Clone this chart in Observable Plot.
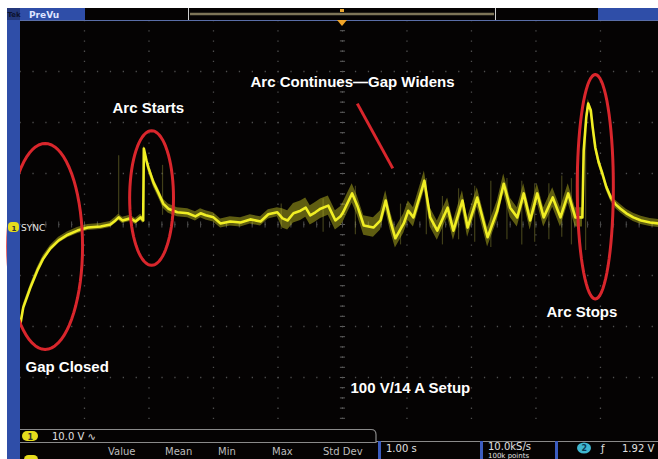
<!DOCTYPE html>
<html>
<head>
<meta charset="utf-8">
<script src="https://cdn.jsdelivr.net/npm/d3@7"></script>
<script src="https://cdn.jsdelivr.net/npm/@observablehq/plot@0.6"></script>
<style>
  html, body { margin: 0; padding: 0; background: #fff; }
  #chart svg { display: block; }
</style>
</head>
<body>
<div id="chart"></div>
<script>
// Channel 1 arc-voltage capture, 1.00 s/div, 10.0 V/div (ground at screen centre)
const timeS = [0.01, 0.05, 0.16, 0.27, 0.36, 0.47, 0.60, 0.74, 0.89, 1.05,
  1.25, 1.40, 1.48, 1.53, 1.59, 1.71, 1.79, 1.87, 1.91, 1.92,
  1.96, 1.99, 2.07, 2.15, 2.22, 2.30, 2.44, 2.60, 2.72, 2.80,
  2.88, 3.00, 3.11, 3.26, 3.42, 3.57, 3.73, 3.85, 3.99, 4.07,
  4.15, 4.24, 4.35, 4.43, 4.50, 4.58, 4.66, 4.78, 4.89, 4.97,
  5.01, 5.15, 5.23, 5.33, 5.48, 5.59, 5.67, 5.74, 5.82, 5.95,
  6.02, 6.10, 6.24, 6.27, 6.36, 6.47, 6.63, 6.72, 6.86, 6.94,
  7.09, 7.25, 7.40, 7.50, 7.60, 7.71, 7.81, 7.91, 8.02, 8.12,
  8.26, 8.38, 8.50, 8.61, 8.72, 8.74, 8.78, 8.81, 8.85, 8.88,
  8.92, 8.97, 9.03, 9.09, 9.16, 9.23, 9.31, 9.40, 9.51, 9.63,
  9.77, 9.90];
const volts = [-19.2, -16.3, -12.4, -9.0, -6.7, -4.7, -3.1, -2.0, -1.2, -0.6,
  -0.4, 0.0, 0.8, 1.4, 0.8, 1.2, 0.6, 1.4, 0.8, 14.9,
  12.6, 11.2, 8.2, 6.1, 4.1, 3.1, 2.4, 2.2, 1.6, 2.2,
  1.8, 1.4, 0.2, 0.6, 0.4, 1.0, 0.6, 2.0, 2.4, 1.2,
  0.8, 2.2, 2.7, 3.3, 1.8, 2.4, 3.1, 3.7, 0.8, 1.6,
  2.4, 6.1, 3.7, -0.2, -0.6, 0.8, 4.7, 0.8, -2.7, 0.2,
  2.7, 1.4, 7.3, 8.6, 1.4, -1.2, 3.3, -1.2, 4.7, -0.6,
  5.3, -2.5, 2.7, 8.0, 3.3, 1.4, 6.1, 0.8, 6.1, 1.4,
  5.3, 1.4, 6.1, 1.4, 1.4, 14.5, 21.0, 23.7, 22.4, 19.0,
  15.1, 12.3, 10.0, 7.4, 5.3, 4.0, 3.1, 2.2, 1.4, 0.8,
  0.4, 0.2];

// Noise band half-width (V) over time spans
const bandFrom = [0, 1.92, 4.0, 8.73];
const bandTo = [1.92, 4.0, 8.73, 9.9];
const bandHalf = [0.6, 0.9, 1.9, 0.8];

// Short acquisition glitches (time, low V, high V)
const glitchT = [1.53, 2.21, 4.05, 4.7, 5.2, 5.9, 6.3, 6.55, 6.8, 7.05, 7.3, 7.55, 7.78, 7.98, 8.2, 8.4, 8.55, 8.66, 8.77];
const glitchLo = [1.8, 1.8, -1.0, -1.5, -2.0, -4.0, -2.0, -4.0, -3.0, -3.5, -4.5, -3.0, -4.0, -3.5, -3.0, -2.5, -4.0, -2.2, -5.1];
const glitchHi = [13.5, 11.6, 4.0, 5.0, 7.5, 4.0, 9.0, 5.5, 7.0, 7.5, 8.5, 9.0, 8.5, 8.0, 8.0, 9.5, 9.0, 10.6, 18.4];

// Annotations
const noteText = ["Arc Starts", "Arc Continues\u2014Gap Widens", "Gap Closed", "Arc Stops", "100 V/14 A Setup"];
const noteT = [1.434, 3.574, 0.085, 8.163, 5.124];
const noteV = [21.9, 26.9, -29.0, -18.2, -33.1];

const ringT = [0.39, 2.04, 8.92];
const ringV = [-4.3, 5.2, 7.4];
const ringRT = [0.58, 0.34, 0.28];
const ringRV = [20.2, 13.2, 22.0];

const arrowFrom = [5.23, 23.7];
const arrowTo = [5.78, 11.0];

const trace = timeS.map((t, i) => ({t, v: volts[i]}));
const half = t => {
  const i = bandFrom.findIndex((f, k) => t >= f && t <= bandTo[k]);
  return i < 0 ? 0.5 : bandHalf[i];
};
const glitches = glitchT.map((t, i) => ({t, lo: glitchLo[i], hi: glitchHi[i]}));
const notes = noteText.map((text, i) => ({text, t: noteT[i], v: noteV[i]}));
const rings = [];
ringT.forEach((c, k) => {
  d3.range(0, 73).forEach(j => {
    const a = (j / 72) * 2 * Math.PI;
    rings.push({id: k, t: c + ringRT[k] * Math.cos(a), v: ringV[k] + ringRV[k] * Math.sin(a)});
  });
});

const RED = "#d9262c";
const YEL = "#f0ee24";

const chart = Plot.plot({
  width: 658,
  height: 459,
  marginLeft: 19.5,
  marginRight: 0,
  marginTop: 20,
  marginBottom: 31,
  x: {domain: [0, 9.9], axis: null},
  y: {domain: [-40, 40], axis: null},
  style: {background: "transparent", overflow: "visible"},
  marks: [
    // graticule
    Plot.ruleX(d3.range(1, 10), {stroke: "#4e4e4e", strokeWidth: 1.3, strokeDasharray: "1.3 8.9"}),
    Plot.ruleY(d3.range(-30, 40, 10), {stroke: "#4e4e4e", strokeWidth: 1.3, strokeDasharray: "1.3 11.6"}),
    Plot.ruleX([5], {stroke: "#555", strokeWidth: 1, strokeDasharray: "1 9.2", strokeOpacity: 0.9}),
    Plot.link(d3.range(-38, 40, 2), {x1: 4.96, x2: 5.04, y1: d => d, y2: d => d, stroke: "#5a5a5a", strokeWidth: 1}),
    Plot.link(d3.range(0.2, 9.9, 0.2), {x1: d => d, x2: d => d, y1: -0.6, y2: 0.6, stroke: "#4a4a4a", strokeWidth: 1}),
    // trace
    Plot.ruleX(glitches, {x: "t", y1: "lo", y2: "hi", stroke: "#9c9b3c", strokeOpacity: 0.4, strokeWidth: 1.2}),
    Plot.areaY(trace, {x: "t", y1: d => d.v - half(d.t), y2: d => d.v + half(d.t), fill: "#b9b720", fillOpacity: 0.5}),
    Plot.line(trace, {x: "t", y: "v", stroke: "#e6e422", strokeWidth: 7, strokeOpacity: 0.4, ariaLabel: "trace-glow"}),
    Plot.line(trace, {x: "t", y: "v", stroke: YEL, strokeWidth: 2.6}),
    // annotations
    Plot.line(rings, {x: "t", y: "v", z: "id", stroke: RED, strokeWidth: 3, curve: "linear-closed"}),
    Plot.link([0], {x1: arrowFrom[0], y1: arrowFrom[1], x2: arrowTo[0], y2: arrowTo[1], stroke: RED, strokeWidth: 3}),
    Plot.text(notes, {x: "t", y: "v", text: "text", textAnchor: "start", lineAnchor: "bottom",
      fill: "#ffffff", fontSize: 15, fontWeight: "bold", fontFamily: "Liberation Sans, Arial, sans-serif"})
  ]
});
document.getElementById("chart").appendChild(chart);

// soften the trace like a phosphor display
const svg = d3.select(chart);
const defs = svg.insert("defs", ":first-child");
defs.append("filter").attr("id", "glow").attr("x", "-5%").attr("y", "-20%").attr("width", "110%").attr("height", "140%")
  .append("feGaussianBlur").attr("stdDeviation", 1.4);
svg.selectAll('g[aria-label="trace-glow"]').attr("filter", "url(#glow)");

// screen background
const bg = svg.insert("g", "defs + *");
bg.append("rect").attr("x", 0).attr("y", 0).attr("width", 658).attr("height", 459).attr("fill", "#ffffff");
bg.append("rect").attr("x", 7).attr("y", 8).attr("width", 651).attr("height", 451).attr("fill", "#050303");

// instrument chrome drawn over the graticule
const ui = svg.append("g").attr("font-family", "DejaVu Sans, sans-serif").attr("text-anchor", "start");
const BLUE = "#2f4ea8";
ui.append("rect").attr("x", 7).attr("y", 8).attr("width", 13).attr("height", 451).attr("fill", BLUE);
ui.append("rect").attr("x", 7).attr("y", 8).attr("width", 78).attr("height", 12).attr("fill", BLUE);
ui.append("rect").attr("x", 7).attr("y", 8).attr("width", 13).attr("height", 12).attr("fill", "#24387a");
ui.append("text").attr("x", 7.5).attr("y", 17).attr("font-size", 7).attr("font-weight", "bold").attr("fill", "#0d1330").text("Tek");
ui.append("text").attr("x", 29).attr("y", 17.5).attr("font-size", 9).attr("font-weight", "bold").attr("fill", "#dfe3ff").text("PreVu");
ui.append("line").attr("x1", 190).attr("x2", 494).attr("y1", 14).attr("y2", 14).attr("stroke", "#7e7558").attr("stroke-width", 2.5);
ui.append("line").attr("x1", 188.5).attr("x2", 188.5).attr("y1", 8).attr("y2", 20).attr("stroke", "#cfcfcf");
ui.append("line").attr("x1", 495.5).attr("x2", 495.5).attr("y1", 8).attr("y2", 20).attr("stroke", "#cfcfcf");
ui.append("rect").attr("x", 340).attr("y", 9).attr("width", 4).attr("height", 3).attr("fill", "#e8a630");
ui.append("rect").attr("x", 598).attr("y", 8).attr("width", 60).attr("height", 12).attr("fill", BLUE);
ui.append("line").attr("x1", 20).attr("x2", 658).attr("y1", 20.5).attr("y2", 20.5).attr("stroke", "#5a6ea8").attr("stroke-width", 1.2);
ui.append("path").attr("d", "M337,20 L347,20 L342,26 Z").attr("fill", "#f0a428");

// channel 1 ground marker
ui.append("rect").attr("x", 8).attr("y", 222).attr("width", 11).attr("height", 10).attr("rx", 4).attr("fill", "#e6dc1c");
ui.append("text").attr("x", 11.5).attr("y", 230.5).attr("font-size", 7).attr("font-weight", "bold").attr("fill", "#333").text("1");
ui.append("text").attr("x", 21).attr("y", 231).attr("font-size", 9).attr("fill", "#e8e8e8").text("SYNC");

// bottom status area
ui.append("path").attr("d", "M20,429.5 H371 Q376,429.5 376,434.5 V442.5 H20").attr("fill", "#050303").attr("stroke", "#8a8a8a").attr("stroke-width", 1.2);
ui.append("line").attr("x1", 376).attr("x2", 658).attr("y1", 441.5).attr("y2", 441.5).attr("stroke", "#8a8a8a").attr("stroke-width", 1.2);
ui.append("rect").attr("x", 22).attr("y", 431).attr("width", 16).attr("height", 10).attr("rx", 5).attr("fill", "#e6dc1c");
ui.append("text").attr("x", 27.5).attr("y", 439.5).attr("font-size", 8).attr("font-weight", "bold").attr("fill", "#333").text("1");
ui.append("text").attr("x", 52).attr("y", 440).attr("font-size", 10).attr("fill", "#e0e0e0").text("10.0 V \u223F");
[["Value", 108], ["Mean", 165], ["Min", 218], ["Max", 272], ["Std Dev", 323]].forEach(([s, x]) =>
  ui.append("text").attr("x", x).attr("y", 455).attr("font-size", 10).attr("fill", "#bdbdbd").text(s));
ui.append("rect").attr("x", 24).attr("y", 455).attr("width", 14).attr("height", 9).attr("rx", 4.5).attr("fill", "#e6dc1c");
[378, 480, 555].forEach(x =>
  ui.append("rect").attr("x", x).attr("y", 441).attr("width", 3).attr("height", 18).attr("fill", "#3b5cc0"));
ui.append("text").attr("x", 386).attr("y", 452).attr("font-size", 10).attr("fill", "#e0e0e0").text("1.00 s");
ui.append("text").attr("x", 488).attr("y", 450).attr("font-size", 10).attr("fill", "#e0e0e0").text("10.0kS/s");
ui.append("text").attr("x", 488).attr("y", 457.5).attr("font-size", 7).attr("fill", "#e0e0e0").text("100k points");
ui.append("ellipse").attr("cx", 584).attr("cy", 448).attr("rx", 7).attr("ry", 5.5).attr("fill", "#3fb6cf");
ui.append("text").attr("x", 581.5).attr("y", 451).attr("font-size", 8).attr("font-weight", "bold").attr("fill", "#0b3a55").text("2");
ui.append("text").attr("x", 601).attr("y", 452).attr("font-size", 10).attr("fill", "#e0e0e0").text("\u0192");
ui.append("text").attr("x", 622).attr("y", 452).attr("font-size", 10).attr("fill", "#e0e0e0").text("1.92 V");
</script>
</body>
</html>
